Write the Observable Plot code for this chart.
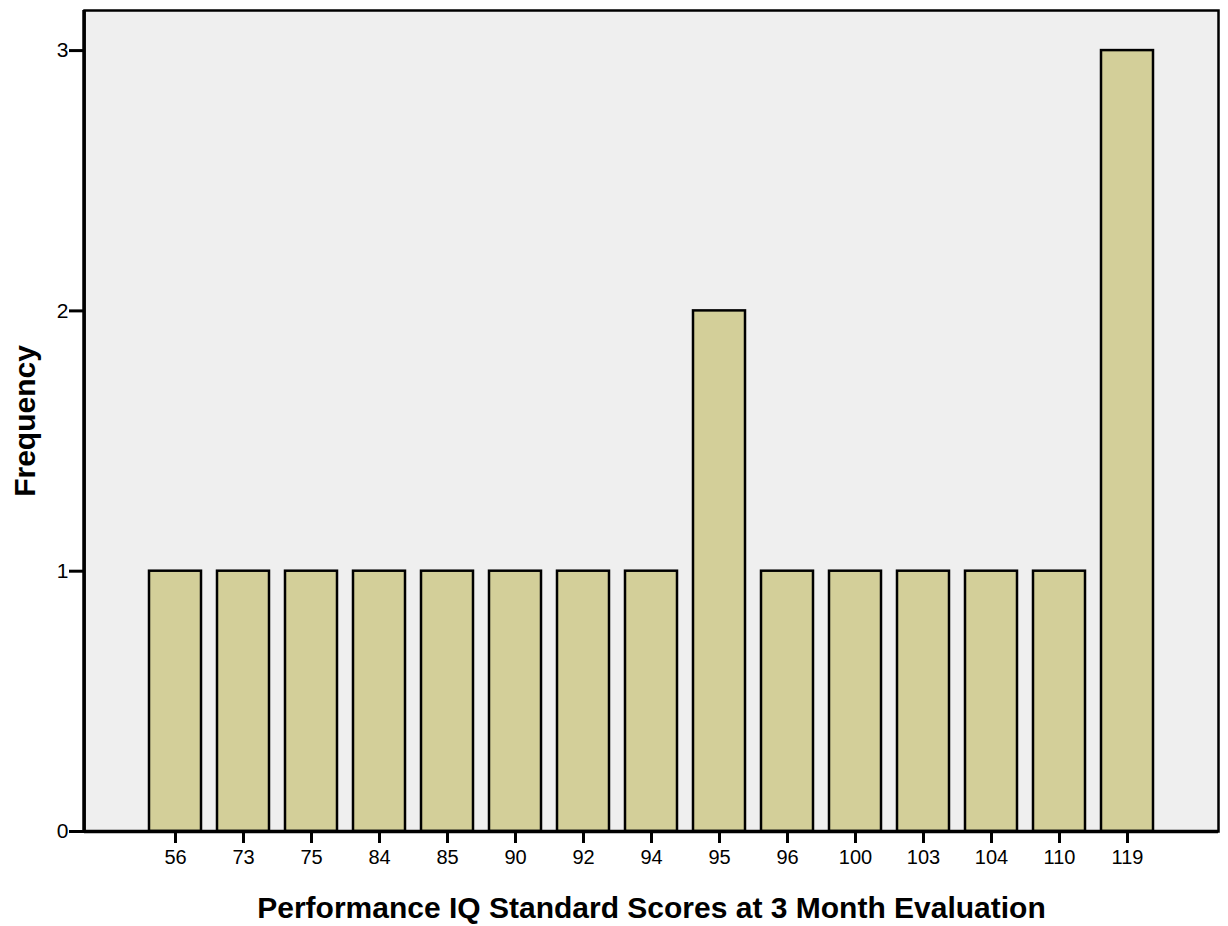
<!DOCTYPE html>
<html>
<head>
<meta charset="utf-8">
<script src="https://cdn.jsdelivr.net/npm/d3@7"></script>
<script src="https://cdn.jsdelivr.net/npm/@observablehq/plot@0.6"></script>
<style>
  html, body { margin: 0; padding: 0; background: #fff; }
  #chart svg { display: block; font-family: "Liberation Sans", Arial, sans-serif; }
</style>
</head>
<body>
<div id="chart"></div>
<script>
const scores = ["56", "73", "75", "84", "85", "90", "92", "94", "95", "96", "100", "103", "104", "110", "119"];
const frequencies = [1, 1, 1, 1, 1, 1, 1, 1, 2, 1, 1, 1, 1, 1, 3];
const yTicks = [0, 1, 2, 3];
const xTitle = "Performance IQ Standard Scores at 3 Month Evaluation";
const yTitle = "Frequency";

const data = scores.map((s, i) => ({score: s, freq: frequencies[i]}));

const leftAxisLine = (index, scales, values, dims) => {
  const g = d3.create("svg:g");
  g.append("line")
    .attr("x1", dims.marginLeft).attr("x2", dims.marginLeft)
    .attr("y1", dims.marginTop).attr("y2", dims.height - dims.marginBottom)
    .attr("stroke", "black").attr("stroke-width", 3.5);
  return g.node();
};

const chart = Plot.plot({
  width: 1228,
  height: 926,
  marginLeft: 84,
  marginRight: 10,
  marginTop: 10,
  marginBottom: 95,
  style: {fontFamily: "'Liberation Sans', Arial, sans-serif", background: "white", color: "black"},
  x: {domain: scores, paddingInner: 0.235, paddingOuter: 0.947, label: null},
  y: {domain: [0, 3.154], label: null},
  marks: [
    Plot.frame({fill: "#efefef", stroke: "black", strokeWidth: 2.5}),
    Plot.barY(data, {x: "score", y: "freq", fill: "#d3cf99", stroke: "black", strokeWidth: 2.5}),
    Plot.ruleY([0], {stroke: "black", strokeWidth: 3.5}),
    leftAxisLine,
    Plot.axisY(yTicks, {tickSize: 15, tickPadding: 1, fontSize: 21, strokeWidth: 3, tickFormat: "d", label: null}),
    Plot.axisX({tickSize: 12, tickPadding: 6, fontSize: 20, strokeWidth: 3, label: null}),
    Plot.text([xTitle], {frameAnchor: "bottom", dy: 77, fontSize: 30, fontWeight: "bold", lineAnchor: "middle", textAnchor: "middle"}),
    Plot.text([yTitle], {frameAnchor: "left", dx: -59, rotate: -90, fontSize: 30, fontWeight: "bold", lineAnchor: "middle", textAnchor: "middle"})
  ]
});
document.getElementById("chart").appendChild(chart);
</script>
</body>
</html>
